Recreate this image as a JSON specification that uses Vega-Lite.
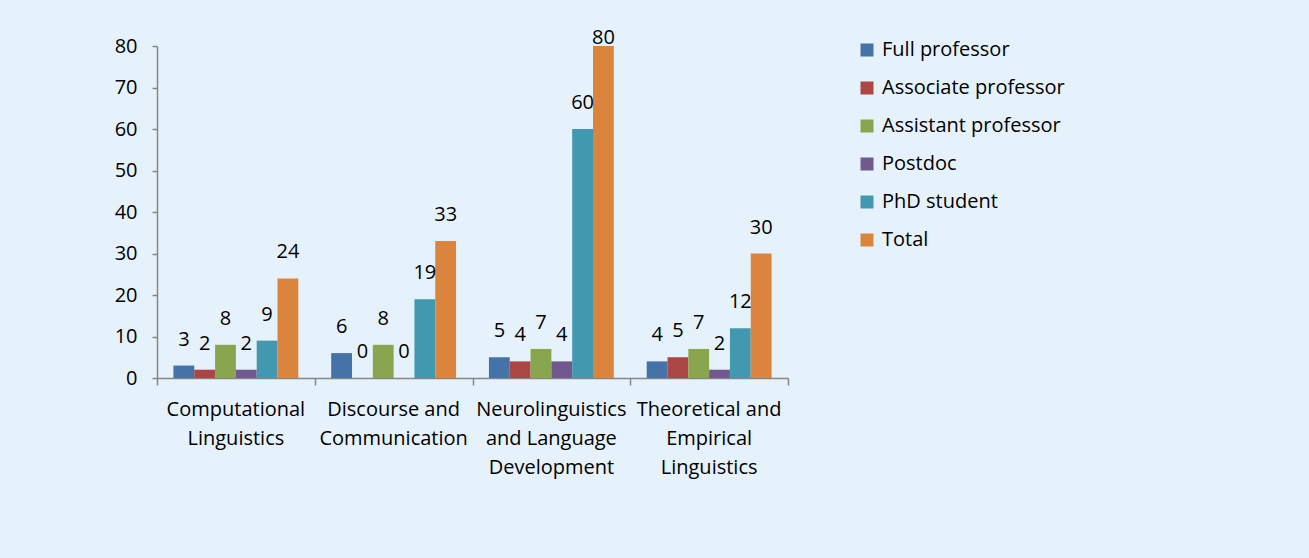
{
  "$schema": "https://vega.github.io/schema/vega-lite/v6.json",
  "width": 631,
  "height": 332,
  "autosize": {"type": "none"},
  "padding": {"left": 157, "top": 46, "right": 521, "bottom": 180},
  "background": "#E6F2FB",
  "config": {
    "font": "Open Sans",
    "view": {"stroke": null},
    "axis": {"labelFont": "Open Sans", "labelFontSize": 20, "labelColor": "#000000", "domainColor": "#868686", "tickColor": "#868686", "domainWidth": 1.5, "tickWidth": 1.5, "grid": false, "title": null}
  },
  "data": {
    "values": [
      {"field": "Computational Linguistics", "role": "Full professor", "count": 3},
      {"field": "Computational Linguistics", "role": "Associate professor", "count": 2},
      {"field": "Computational Linguistics", "role": "Assistant professor", "count": 8},
      {"field": "Computational Linguistics", "role": "Postdoc", "count": 2},
      {"field": "Computational Linguistics", "role": "PhD student", "count": 9},
      {"field": "Computational Linguistics", "role": "Total", "count": 24},
      {"field": "Discourse and Communication", "role": "Full professor", "count": 6},
      {"field": "Discourse and Communication", "role": "Associate professor", "count": 0},
      {"field": "Discourse and Communication", "role": "Assistant professor", "count": 8},
      {"field": "Discourse and Communication", "role": "Postdoc", "count": 0},
      {"field": "Discourse and Communication", "role": "PhD student", "count": 19},
      {"field": "Discourse and Communication", "role": "Total", "count": 33},
      {"field": "Neurolinguistics and Language Development", "role": "Full professor", "count": 5},
      {"field": "Neurolinguistics and Language Development", "role": "Associate professor", "count": 4},
      {"field": "Neurolinguistics and Language Development", "role": "Assistant professor", "count": 7},
      {"field": "Neurolinguistics and Language Development", "role": "Postdoc", "count": 4},
      {"field": "Neurolinguistics and Language Development", "role": "PhD student", "count": 60},
      {"field": "Neurolinguistics and Language Development", "role": "Total", "count": 80},
      {"field": "Theoretical and Empirical Linguistics", "role": "Full professor", "count": 4},
      {"field": "Theoretical and Empirical Linguistics", "role": "Associate professor", "count": 5},
      {"field": "Theoretical and Empirical Linguistics", "role": "Assistant professor", "count": 7},
      {"field": "Theoretical and Empirical Linguistics", "role": "Postdoc", "count": 2},
      {"field": "Theoretical and Empirical Linguistics", "role": "PhD student", "count": 12},
      {"field": "Theoretical and Empirical Linguistics", "role": "Total", "count": 30}
    ]
  },
  "encoding": {
    "x": {
      "field": "field", "type": "nominal", "sort": null,
      "scale": {"paddingInner": 0, "paddingOuter": 0},
      "axis": {
        "orient": "bottom", "labelAngle": 0, "ticks": false, "labelPadding": 21, "labelLineHeight": 29,
        "labelExpr": "datum.value == 'Computational Linguistics' ? ['Computational', 'Linguistics'] : datum.value == 'Discourse and Communication' ? ['Discourse and', 'Communication'] : datum.value == 'Neurolinguistics and Language Development' ? ['Neurolinguistics', 'and Language', 'Development'] : ['Theoretical and', 'Empirical', 'Linguistics']"
      }
    },
    "xOffset": {
      "field": "role", "type": "nominal", "sort": null,
      "scale": {"paddingInner": 0, "paddingOuter": 0.79}
    },
    "y": {
      "field": "count", "type": "quantitative",
      "scale": {"domain": [0, 80], "nice": false},
      "axis": {"values": [0, 10, 20, 30, 40, 50, 60, 70, 80], "tickSize": 5, "labelPadding": 15}
    }
  },
  "layer": [
    {
      "mark": {"type": "bar"},
      "encoding": {
        "x": {
          "field": "field", "type": "nominal", "sort": null,
          "axis": {"labels": false, "domain": false, "tickBand": "extent", "tickSize": 7, "ticks": true, "orient": "bottom"}
        },
        "color": {
          "field": "role", "type": "nominal", "sort": null,
          "scale": {
            "domain": ["Full professor", "Associate professor", "Assistant professor", "Postdoc", "PhD student", "Total"],
            "range": ["#4572A7", "#AA4643", "#89A54E", "#71588F", "#4198AF", "#DB843D"]
          },
          "legend": {
            "title": null, "orient": "none", "legendX": 700, "legendY": -6,
            "symbolType": "square", "symbolSize": 169, "symbolStrokeWidth": 0,
            "labelFontSize": 20, "labelFont": "Open Sans", "labelColor": "#000000", "labelOffset": 5, "rowPadding": 18, "labelLimit": 400
          }
        }
      }
    },
    {
      "mark": {"type": "text", "baseline": "alphabetic", "dy": {"expr": "datum.count >= 80 ? -2 : -20"}, "fontSize": 20, "font": "Open Sans", "color": "#000000"},
      "encoding": {"text": {"field": "count", "type": "quantitative"}}
    }
  ],
  "resolve": {"axis": {"x": "independent"}}
}
